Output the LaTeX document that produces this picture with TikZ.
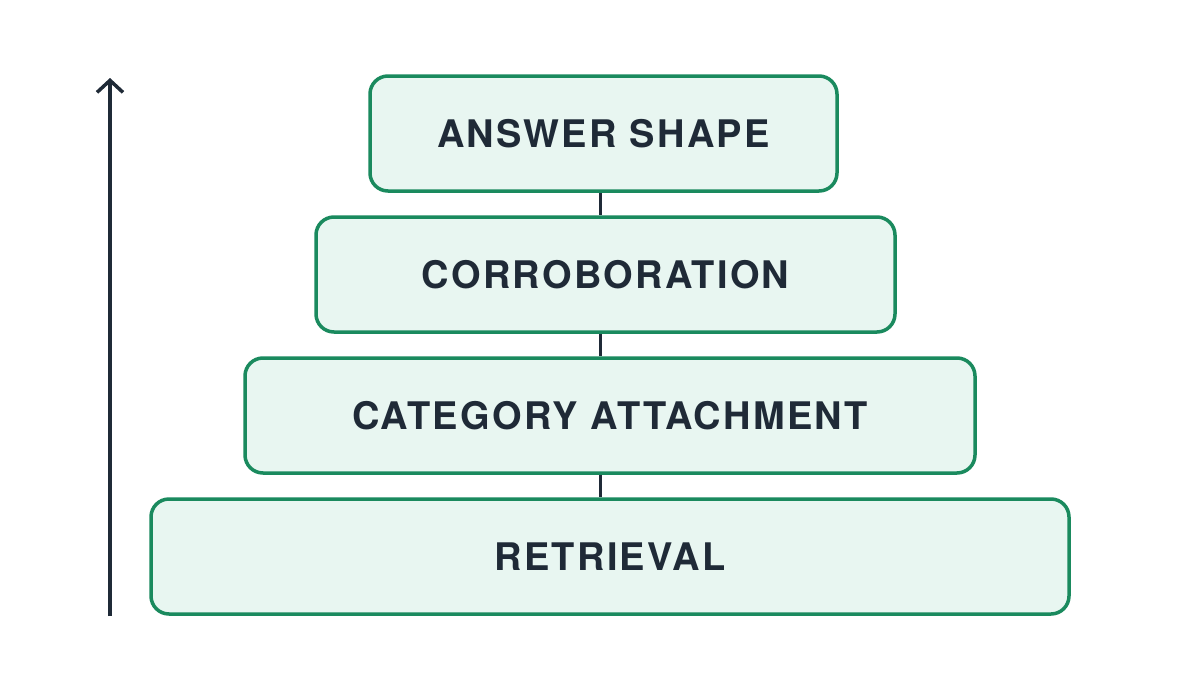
\documentclass[tikz,border=0pt]{standalone}
\usepackage{fontspec}
\setmainfont{TeX Gyre Heros}
\newfontfamily\labelfont[LetterSpace=6]{TeX Gyre Heros}
\usetikzlibrary{arrows.meta}
\definecolor{boxfill}{HTML}{E8F6F1}
\definecolor{boxline}{HTML}{1A8A5E}
\definecolor{ink}{HTML}{1F2A37}
\tikzset{
  layer/.style={draw=boxline, line width=3.5pt, fill=boxfill, rounded corners=18pt,
    font=\labelfont\fontsize{38}{44}\selectfont\bfseries, text=ink},
  link/.style={draw=ink, line width=3pt},
  axis/.style={draw=ink, line width=3.5pt, -{Straight Barb[length=12pt,width=26pt,line width=3.5pt]}}
}
\begin{document}
\begin{tikzpicture}[x=1pt,y=-1pt]
\useasboundingbox[fill=white] (0,0) rectangle (1200,675);
\node[layer, minimum width=467pt, minimum height=115pt] (a) at (603.5,133.5) {ANSWER SHAPE};
\node[layer, minimum width=579pt, minimum height=115pt] (b) at (605.5,274.5) {CORROBORATION};
\node[layer, minimum width=730pt, minimum height=115pt] (c) at (610,415.5) {CATEGORY ATTACHMENT};
\node[layer, minimum width=918pt, minimum height=115pt] (d) at (610,556.5) {RETRIEVAL};
\draw[link] (a.south -| 600,0) -- (b.north -| 600,0);
\draw[link] (b.south -| 600,0) -- (c.north -| 600,0);
\draw[link] (c.south -| 600,0) -- (d.north -| 600,0);
\coordinate (bot) at (110,616);
\coordinate (top) at (110,78);
\draw[axis] (bot) -- (top);
\end{tikzpicture}
\end{document}
